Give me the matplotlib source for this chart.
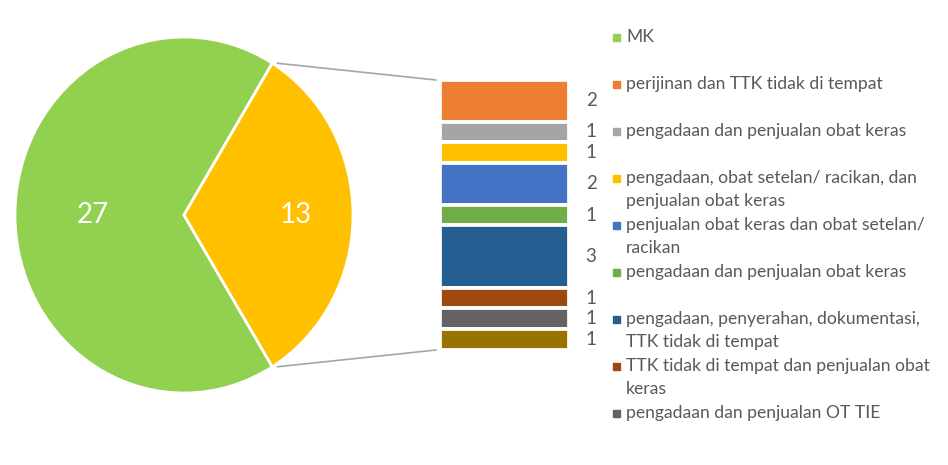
import matplotlib
matplotlib.use("Agg")
import matplotlib.pyplot as plt
from matplotlib.patches import ConnectionPatch, Rectangle
import numpy as np

plt.rcParams['font.family'] = ['Lato', 'DejaVu Sans']

# main pie: MK vs the rest
pie_labels = ["MK", "lainnya"]
pie_values = [27, 13]
pie_colors = ["#92D050", "#FFC000"]

# breakdown of the 13 (top to bottom in the stacked bar)
sub_labels = [
    "perijinan dan TTK tidak di tempat",
    "pengadaan dan penjualan obat keras",
    "pengadaan, obat setelan/ racikan, dan\npenjualan obat keras",
    "penjualan obat keras dan obat setelan/\nracikan",
    "pengadaan dan penjualan obat keras",
    "pengadaan, penyerahan, dokumentasi,\nTTK tidak di tempat",
    "TTK tidak di tempat dan penjualan obat\nkeras",
    "pengadaan dan penjualan OT TIE",
    None,  # last legend entry is cut off in the original
]
sub_values = [2, 1, 1, 2, 1, 3, 1, 1, 1]
sub_colors = ["#ED7D31", "#A5A5A5", "#FFC000", "#4472C4", "#70AD47",
              "#255E91", "#9E480E", "#636363", "#997300"]

W, H = 948, 465
fig = plt.figure(figsize=(W / 100, H / 100), dpi=100)

def box(x0, y0, x1, y1):
    # pixel box (top-left origin) -> figure coords
    return [x0 / W, 1 - y1 / H, (x1 - x0) / W, (y1 - y0) / H]

# ---- pie ----
ax = fig.add_axes(box(15, 37, 353, 393))
start = 360 * pie_values[1] / sum(pie_values) / 2
wedges, _ = ax.pie(pie_values, colors=pie_colors, startangle=start,
                   wedgeprops=dict(edgecolor="white", linewidth=2))
ax.set_aspect("auto")
ax.set_xlim(-1, 1)
ax.set_ylim(-1, 1)
label_r = [0.54, 0.66]
for w, v, r in zip(wedges, pie_values, label_r):
    mid = np.deg2rad((w.theta1 + w.theta2) / 2)
    ax.text(r * np.cos(mid), r * np.sin(mid), str(v), color="white",
            fontsize=20, ha="center", va="center")

# ---- stacked bar ----
bx = fig.add_axes(box(440, 80, 569, 350))
bottoms = np.concatenate([[0], np.cumsum(sub_values)[:-1]])
bars = bx.bar(0.5, sub_values, bottom=bottoms, width=1, color=sub_colors,
              edgecolor="white", linewidth=2.7)
bx.set_xlim(0, 1)
bx.set_ylim(sum(sub_values), 0)
bx.axis("off")
for b0, v in zip(bottoms, sub_values):
    bx.annotate(str(v), (1, b0 + v / 2), xytext=(12, 0),
                textcoords="offset points", ha="left", va="center",
                fontsize=13.5, color="#595959", annotation_clip=False)

# ---- connector lines ----
t1 = np.deg2rad(wedges[1].theta2)
t0 = np.deg2rad(wedges[1].theta1)
for t, yb in [(t1, 0), (t0, sum(sub_values))]:
    con = ConnectionPatch(xyA=(np.cos(t) + 0.03, np.sin(t)), coordsA=ax.transData,
                          xyB=(-0.03, yb), coordsB=bx.transData,
                          color="#A6A6A6", linewidth=1.2)
    fig.add_artist(con)

# ---- legend (drawn by hand, fixed slots like the original) ----
leg_labels = [pie_labels[0]] + [l for l in sub_labels if l]
leg_colors = [pie_colors[0]] + [c for l, c in zip(sub_labels, sub_colors) if l]
for i, (lab, col) in enumerate(zip(leg_labels, leg_colors)):
    yc = 37 + 47 * i
    fig.add_artist(Rectangle((613 / W, 1 - (yc + 3.5) / H), 7 / W, 7 / H,
                             transform=fig.transFigure, color=col))
    for j, line in enumerate(lab.split("\n")):
        fig.text(626 / W, 1 - (yc + 23 * j) / H, line, fontsize=12.6,
                 color="#595959", ha="left", va="center")

fig.savefig("out.png", dpi=100)
